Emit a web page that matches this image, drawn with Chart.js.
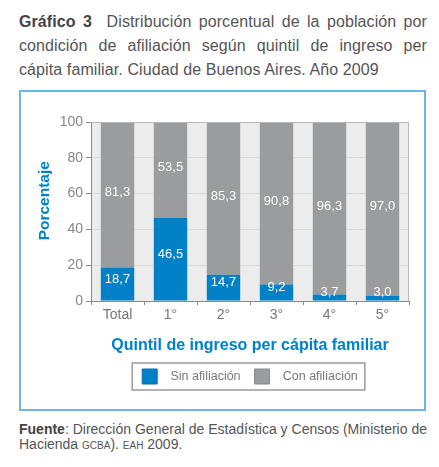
<!DOCTYPE html>
<html>
<head>
<meta charset="utf-8">
<script src="https://cdn.jsdelivr.net/npm/chart.js@4.4.1/dist/chart.umd.min.js"></script>
<style>
  html, body { margin: 0; padding: 0; background: #fff; }
  body { width: 439px; height: 467px; position: relative; font-family: "Liberation Sans", Arial, sans-serif; color: #555; }
  #titulo { position: absolute; left: 19px; top: 10px; width: 408px; font-size: 16px; line-height: 24px; letter-spacing: 0.1px; }
  #titulo div, #fuente div { white-space: nowrap; }
  #titulo .j, #fuente .j { text-align: justify; text-align-last: justify; }
  #titulo b { color: #444; }
  #marco { position: absolute; left: 19px; top: 90px; width: 403px; height: 317px; border: 2px solid #6cb6e3; }
  #marco canvas { display: block; }
  #fuente { position: absolute; left: 19px; top: 422px; width: 408px; font-size: 14px; line-height: 14.5px; }
  #fuente b { color: #444; }
  .sc { font-variant: small-caps; text-transform: lowercase; }
</style>
</head>
<body>
<div id="titulo">
  <div class="j"><b>Gráfico 3</b>&nbsp; Distribución porcentual de la población por</div>
  <div class="j">condición de afiliación según quintil de ingreso per</div>
  <div>cápita familiar. Ciudad de Buenos Aires. Año 2009</div>
</div>
<div id="marco"><canvas id="grafico" width="403" height="317"></canvas></div>
<div id="fuente">
  <div class="j"><b>Fuente</b>: Dirección General de Estadística y Censos (Ministerio de</div>
  <div>Hacienda <span class="sc">GCBA</span>). <span class="sc">EAH</span> 2009.</div>
</div>
<script>
// datos
const quintiles = ['Total', '1°', '2°', '3°', '4°', '5°'];
const sinAfiliacion = [18.7, 46.5, 14.7, 9.2, 3.7, 3.0];
const conAfiliacion = [81.3, 53.5, 85.3, 90.8, 96.3, 97.0];
const ticksY = [0, 20, 40, 60, 80, 100];

const AZUL = '#0080c6';
const GRIS = '#9b9c9d';
const FUENTE = '"Liberation Sans", Arial, sans-serif';

// fondo gris del área de trazado
const fondoArea = {
    id: 'fondoArea',
    beforeDraw(chart) {
        const a = chart.chartArea, ctx = chart.ctx;
        ctx.save();
        ctx.fillStyle = '#ececed';
        ctx.fillRect(a.left, a.top, a.right - a.left, a.bottom - a.top);
        ctx.restore();
    },
    afterDatasetsDraw(chart) {
        const a = chart.chartArea, ctx = chart.ctx;
        ctx.save();
        ctx.strokeStyle = '#b8b8b8';
        ctx.lineWidth = 1;
        ctx.beginPath();
        ctx.moveTo(a.left, a.top + 0.5);
        ctx.lineTo(a.right - 0.5, a.top + 0.5);
        ctx.lineTo(a.right - 0.5, a.bottom);
        ctx.stroke();
        ctx.restore();
    }
};

// etiquetas blancas dentro de las barras
const etiquetas = {
    id: 'etiquetas',
    afterDatasetsDraw(chart) {
        const ctx = chart.ctx;
        ctx.save();
        ctx.font = '13px ' + FUENTE;
        ctx.fillStyle = '#ffffff';
        ctx.textAlign = 'center';
        ctx.textBaseline = 'middle';
        chart.data.datasets.forEach((ds, i) => {
            const meta = chart.getDatasetMeta(i);
            const desp = i === 0 ? -5 : -2;
            meta.data.forEach((el, j) => {
                const p = el.getProps(['x', 'y', 'base'], true);
                const y = (p.y + p.base) / 2 + desp;
                ctx.fillText(ds.data[j].toFixed(1).replace('.', ','), p.x, Math.min(y, p.base - 8));
            });
        });
        ctx.restore();
    }
};

// leyenda centrada bajo el área de trazado, con marco
const leyenda = {
    id: 'leyenda',
    afterLayout(chart) {
        const lg = chart.legend, a = chart.chartArea;
        const dx = (a.left + a.right) / 2 - (lg.left + lg.right) / 2;
        lg.left += dx;
        lg.right += dx;
    },
    afterDraw(chart) {
        const hb = chart.legend.legendHitBoxes, ctx = chart.ctx;
        if (!hb || !hb.length) return;
        const first = hb[0], last = hb[hb.length - 1];
        const x0 = first.left - 10, x1 = last.left + last.width + 7;
        ctx.save();
        ctx.strokeStyle = '#9a9a9a';
        ctx.lineWidth = 1.5;
        ctx.strokeRect(x0, first.top - 6, x1 - x0, first.height + 12);
        ctx.restore();
    }
};

new Chart(document.getElementById('grafico'), {
    type: 'bar',
    data: {
        labels: quintiles,
        datasets: [
            { label: 'Sin afiliación', data: sinAfiliacion, backgroundColor: AZUL, borderWidth: 0 },
            { label: 'Con afiliación', data: conAfiliacion, backgroundColor: GRIS, borderWidth: 0 }
        ]
    },
    options: {
        responsive: false,
        animation: false,
        barPercentage: 0.63,
        categoryPercentage: 1,
        layout: { padding: { top: 30, right: 15, left: 0, bottom: 15 } },
        plugins: {
            tooltip: { enabled: false },
            legend: {
                position: 'bottom',
                labels: {
                    color: '#777',
                    font: { family: FUENTE, size: 12.5 },
                    boxWidth: 15,
                    boxHeight: 15,
                    padding: 14,
                    generateLabels(chart) {
                        return chart.data.datasets.map((ds, i) => ({
                            text: '  ' + ds.label,
                            fillStyle: ds.backgroundColor,
                            strokeStyle: i === 0 ? '#0a6ea8' : '#8a8a8a',
                            lineWidth: 1,
                            fontColor: '#777',
                            datasetIndex: i
                        }));
                    }
                }
            }
        },
        scales: {
            x: {
                stacked: true,
                afterFit(s) { s.height = 54; },
                grid: { offset: true, drawOnChartArea: false, tickLength: 4, tickColor: '#8a8a8a' },
                border: { color: '#8a8a8a', width: 1 },
                ticks: { color: '#777', font: { family: FUENTE, size: 14 }, padding: 2 },
                title: {
                    display: true,
                    text: 'Quintil de ingreso per cápita familiar',
                    color: AZUL,
                    font: { family: FUENTE, size: 16, weight: 'bold' },
                    padding: { top: 12, bottom: 0 }
                }
            },
            y: {
                stacked: true,
                min: 0,
                max: 100,
                afterFit(s) { s.width = 70; },
                afterBuildTicks(s) { s.ticks = ticksY.map(v => ({ value: v })); },
                grid: { color: '#dadada', tickLength: 5, tickColor: '#8a8a8a' },
                border: { color: '#8a8a8a', width: 1 },
                ticks: { color: '#888', font: { family: FUENTE, size: 14 }, padding: 3 },
                title: {
                    display: true,
                    text: '     Porcentaje',
                    color: AZUL,
                    font: { family: FUENTE, size: 15.5, weight: 'bold' },
                    padding: { top: 14, bottom: 0 }
                }
            }
        }
    },
    plugins: [fondoArea, etiquetas, leyenda]
});
</script>
</body>
</html>
